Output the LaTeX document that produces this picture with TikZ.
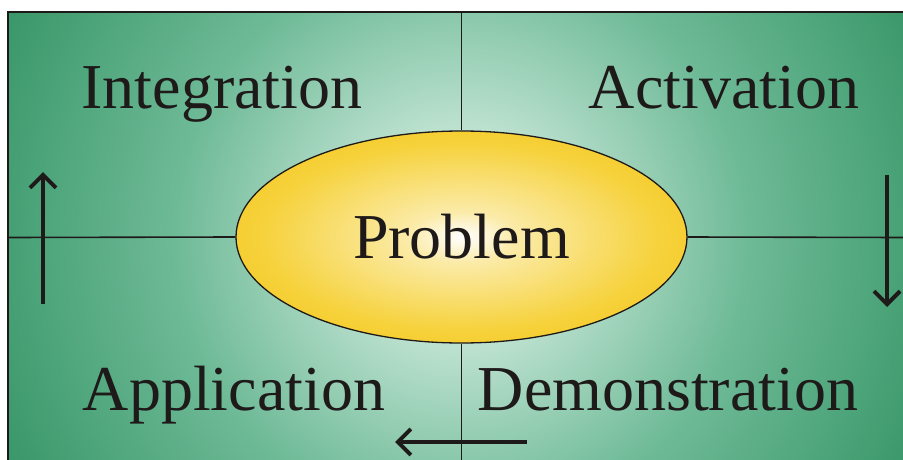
\documentclass[tikz,border=0pt]{standalone}
\usepackage{fontspec}
\setmainfont{Liberation Serif}
\newfontfamily\tnr{Liberation Serif}
\usetikzlibrary{shapes.geometric,arrows.meta}
\definecolor{gA}{HTML}{D2ECDF}
\definecolor{gB}{HTML}{6EBA97}
\definecolor{gC}{HTML}{16804A}
\definecolor{gD}{HTML}{046535}
\definecolor{yA}{HTML}{FBEBA8}
\definecolor{yB}{HTML}{F6D23C}
\definecolor{yC}{HTML}{EFBB00}
\definecolor{ink}{HTML}{1E1A1A}
\pgfdeclareradialshading{bgshade}{\pgfpoint{0bp}{0bp}}{color(0bp)=(white); color(3bp)=(gA); color(14bp)=(gB); color(32bp)=(gC); color(46bp)=(gD); color(50bp)=(gD)}
\pgfdeclareradialshading{yshade}{\pgfpoint{0bp}{0bp}}{color(0bp)=(white); color(6bp)=(yA); color(22bp)=(yB); color(40bp)=(yC); color(50bp)=(yC)}
\tikzset{
  label text/.style={font=\tnr\fontsize{64}{70}\selectfont, anchor=base, inner sep=0pt, text=ink},
  crossline/.style={draw=ink, line width=1.6pt},
  flowarrow/.style={draw=ink, line width=4pt, -{Straight Barb[length=13pt,width=26pt]}},
}
\begin{document}
\begin{tikzpicture}[x=1pt,y=-1pt]
\useasboundingbox (0,0) rectangle (903,460);
\begin{scope}
  \clip (8,12) rectangle (903,460);
  \shade[shading=bgshade] (-49,-273) rectangle (971,747);
\end{scope}
\draw[line width=2pt, ink] (8,462) -- (8,12) -- (905,12);
% central ellipse
\node[ellipse, draw=ink, line width=1.3pt, shading=yshade,
      minimum width=451pt, minimum height=212pt, inner sep=0pt,
      font=\tnr\fontsize{64}{70}\selectfont, text=ink] (p) at (461.5,237) {Problem};
% cross lines
\coordinate (ctop) at (461.5,12);
\coordinate (cbot) at (461.5,460);
\coordinate (cleft) at (8,237.5);
\coordinate (cright) at (903,237.5);
\draw[crossline] (p.north) -- (ctop);
\draw[crossline] (p.south) -- (cbot);
\draw[crossline] (p.west) -- (cleft);
\draw[crossline] (p.east) -- (cright);
% labels
\node[label text] (tI) at (222,108) {Integration};
\node[label text] (tA) at (724,108) {Activation};
\node[label text] (tP) at (234,410) {Application};
\node[label text] (tD) at (668,410) {Demonstration};
% arrows
\coordinate (la1) at (43,304);
\coordinate (la2) at (43,172);
\coordinate (ra1) at (887,175);
\coordinate (ra2) at (887,307);
\coordinate (ba1) at (527,442);
\coordinate (ba2) at (395,442);
\draw[flowarrow] (la1) -- (la2);
\draw[flowarrow] (ra1) -- (ra2);
\draw[flowarrow] (ba1) -- (ba2);
\end{tikzpicture}
\end{document}
